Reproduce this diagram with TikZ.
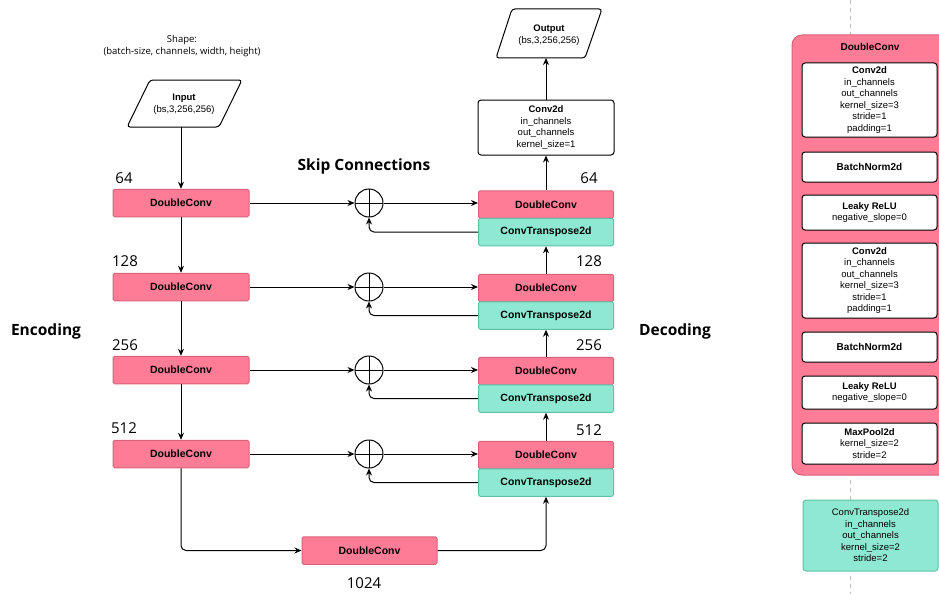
\documentclass[tikz,border=0pt]{standalone}
\usepackage{fontspec}
\setmainfont{Liberation Sans}
\newfontfamily\labelfont{Open Sans}
\usetikzlibrary{arrows.meta}
\definecolor{unetpink}{RGB}{255,124,151}
\definecolor{unetpinkdark}{RGB}{215,98,122}
\definecolor{unetteal}{RGB}{143,233,210}
\definecolor{unettealdark}{RGB}{98,192,168}
\tikzset{
  box/.style={draw, rounded corners=1.5pt, minimum width=136pt, minimum height=27.5pt,
    inner sep=0pt, font=\fontsize{10.5}{12}\selectfont\bfseries},
  dconv/.style={box, fill=unetpink, draw=unetpinkdark},
  tconv/.style={box, fill=unetteal, draw=unettealdark},
  layer/.style={draw, fill=white, rounded corners=3pt, minimum width=135pt, inner sep=0pt,
    align=center, font=\fontsize{9.5}{11.5}\selectfont},
  sumnode/.style={circle, draw, minimum size=28pt, inner sep=0pt,
    path picture={\draw (path picture bounding box.north) -- (path picture bounding box.south)
      (path picture bounding box.west) -- (path picture bounding box.east);}},
  chan/.style={font=\labelfont\fontsize{15}{15}\selectfont},
  heading/.style={font=\labelfont\bfseries\fontsize{15.5}{15.5}\selectfont},
}
\begin{document}
\begin{tikzpicture}[x=1pt, y=-1pt, line width=1pt, >={Stealth[length=7pt,width=6pt]}]
  \useasboundingbox (0,0) rectangle (939,594);

  % side panel
  \draw[gray!50, line width=0.8pt, dash pattern=on 4pt off 4pt] (850,0) -- (850,594);
  \draw[unetpinkdark, fill=unetpink, rounded corners=10pt] (792,35) rectangle (950,475);
  \node[font=\fontsize{10}{12}\selectfont\bfseries] (dctitle) at (870,47) {DoubleConv};
  \node[layer, minimum height=74pt] (lconva) at (869.5,100)
    {\textbf{Conv2d}\\in\_channels\\out\_channels\\kernel\_size=3\\stride=1\\padding=1};
  \node[layer, minimum height=30pt, font=\fontsize{10}{12}\selectfont\bfseries] (lbna) at (869.5,167) {BatchNorm2d};
  \node[layer, minimum height=35pt] (lrelua) at (869.5,212.5) {\textbf{Leaky ReLU}\\negative\_slope=0};
  \node[layer, minimum height=75pt] (lconvb) at (869.5,280.5)
    {\textbf{Conv2d}\\in\_channels\\out\_channels\\kernel\_size=3\\stride=1\\padding=1};
  \node[layer, minimum height=30pt, font=\fontsize{10}{12}\selectfont\bfseries] (lbnb) at (869.5,347) {BatchNorm2d};
  \node[layer, minimum height=33pt] (lrelub) at (869.5,392.5) {\textbf{Leaky ReLU}\\negative\_slope=0};
  \node[layer, minimum height=41pt] (lpool) at (869.5,443.5) {\textbf{MaxPool2d}\\kernel\_size=2\\stride=2};
  \node[layer, fill=unetteal, draw=unettealdark, minimum height=71pt] (ltconv) at (870.5,535.5)
    {ConvTranspose2d\\in\_channels\\out\_channels\\kernel\_size=2\\stride=2};

  % input and output
  \node[font=\labelfont\fontsize{9.5}{11.5}\selectfont, align=center] (shape) at (182,46)
    {Shape:\\(batch-size, channels, width, height)};
  \draw[fill=white, rounded corners=3pt] (150,80) -- (242,80) -- (219,127) -- (127,127) -- cycle;
  \node[align=center, font=\fontsize{9.5}{11.5}\selectfont] (inp) at (184,104) {\textbf{Input}\\(bs,3,256,256)};
  \coordinate (inpb) at (181,127);
  \draw[fill=white, rounded corners=3pt] (512,9) -- (602,9) -- (585,58) -- (496,58) -- cycle;
  \node[align=center, font=\fontsize{9.5}{11.5}\selectfont] (outp) at (549,35) {\textbf{Output}\\(bs,3,256,256)};
  \coordinate (outb) at (546,58);
  \node[layer, minimum width=136pt, minimum height=55pt] (lastconv) at (546,127.5)
    {\textbf{Conv2d}\\in\_channels\\out\_channels\\kernel\_size=1};

  % encoder
  \node[dconv] (enca) at (181,203) {DoubleConv};
  \node[dconv] (encb) at (181,287) {DoubleConv};
  \node[dconv] (encc) at (181,370) {DoubleConv};
  \node[dconv] (encd) at (181,454) {DoubleConv};
  \node[dconv, minimum width=135pt] (bott) at (369.5,550.5) {DoubleConv};

  % decoder
  \node[dconv, minimum width=135pt] (deca) at (546,204.5) {DoubleConv};
  \node[tconv, minimum width=135pt] (upa) at (546,232) {ConvTranspose2d};
  \node[dconv, minimum width=135pt] (decb) at (546,288) {DoubleConv};
  \node[tconv, minimum width=135pt] (upb) at (546,315.5) {ConvTranspose2d};
  \node[dconv, minimum width=135pt] (decc) at (546,371) {DoubleConv};
  \node[tconv, minimum width=135pt] (upc) at (546,398.5) {ConvTranspose2d};
  \node[dconv, minimum width=135pt] (decd) at (546,455) {DoubleConv};
  \node[tconv, minimum width=135pt] (upd) at (546,482.5) {ConvTranspose2d};

  % skip sums
  \node[sumnode] (suma) at (369,203) {};
  \node[sumnode] (sumb) at (369,287) {};
  \node[sumnode] (sumc) at (369,370) {};
  \node[sumnode] (sumd) at (369,454) {};

  % labels
  \node[heading] (skiptitle) at (364,166) {Skip Connections};
  \node[heading] (enctitle) at (46,331) {Encoding};
  \node[heading] (dectitle) at (675,331) {Decoding};
  \node[chan] (la) at (124,178) {64};
  \node[chan] (lb) at (125,261) {128};
  \node[chan] (lc) at (125,345) {256};
  \node[chan] (ld) at (124,428) {512};
  \node[chan] (ra) at (589,178) {64};
  \node[chan] (rb) at (589,261) {128};
  \node[chan] (rc) at (589,345) {256};
  \node[chan] (rd) at (589,430) {512};
  \node[chan] (lbott) at (364,583) {1024};

  % down path
  \draw[->] (inpb) -- (enca.north);
  \draw[->] (enca.south) -- (encb.north);
  \draw[->] (encb.south) -- (encc.north);
  \draw[->] (encc.south) -- (encd.north);
  \draw[->, rounded corners=5pt] (encd.south) |- (bott.west);
  \draw[->, rounded corners=5pt] (bott.east) -| (upd.south);

  % up path
  \draw[->] (decd.north) -- (upc.south);
  \draw[->] (decc.north) -- (upb.south);
  \draw[->] (decb.north) -- (upa.south);
  \draw[->] (deca.north) -- (lastconv.south);
  \draw[->] (lastconv.north) -- (outb);

  % skip connections
  \draw[->] (enca.east) -- (suma.west);
  \draw[->] (encb.east) -- (sumb.west);
  \draw[->] (encc.east) -- (sumc.west);
  \draw[->] (encd.east) -- (sumd.west);
  \draw[->] (suma.east) -- (suma.east -| deca.west);
  \draw[->] (sumb.east) -- (sumb.east -| decb.west);
  \draw[->] (sumc.east) -- (sumc.east -| decc.west);
  \draw[->] (sumd.east) -- (sumd.east -| decd.west);
  \draw[->, rounded corners=5pt] (upa.west) -| (suma.south);
  \draw[->, rounded corners=5pt] (upb.west) -| (sumb.south);
  \draw[->, rounded corners=5pt] (upc.west) -| (sumc.south);
  \draw[->, rounded corners=5pt] (upd.west) -| (sumd.south);
\end{tikzpicture}
\end{document}
